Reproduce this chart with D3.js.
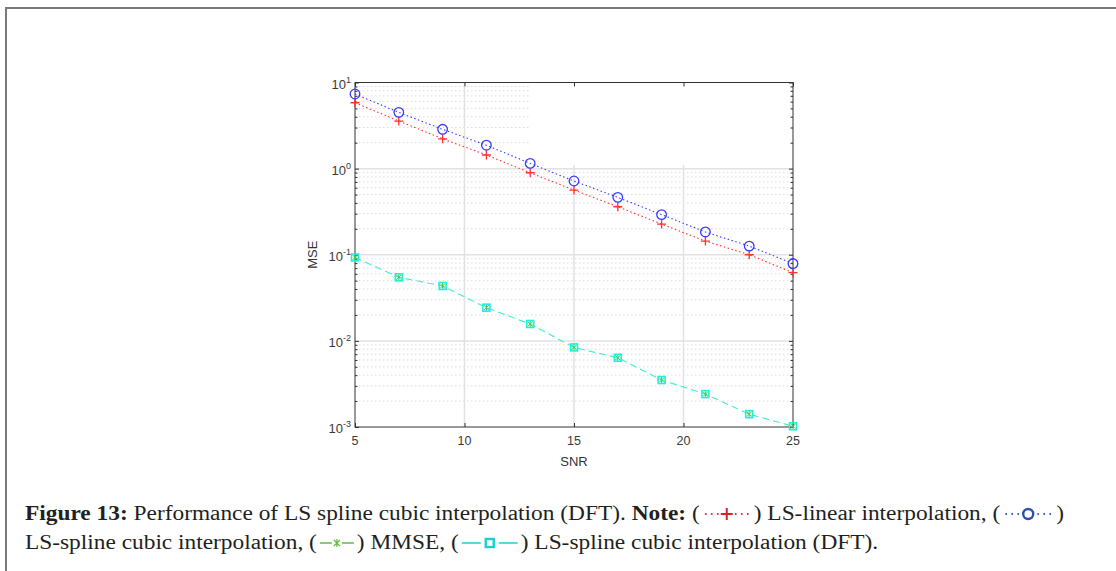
<!DOCTYPE html>
<html>
<head>
<meta charset="utf-8">
<script src="https://cdn.jsdelivr.net/npm/d3@7"></script>
<style>
  body { margin: 0; background: #fff; }
  svg { display: block; }
</style>
</head>
<body>
<svg id="fig" width="1116" height="571"></svg>
<script>
// values
const snr = [5, 7, 9, 11, 13, 15, 17, 19, 21, 23, 25];
const lsLinear = [5.82, 3.57, 2.22, 1.44, 0.895, 0.564, 0.361, 0.227, 0.144, 0.100, 0.062];
const lsSpline = [7.35, 4.50, 2.86, 1.87, 1.15, 0.718, 0.464, 0.292, 0.184, 0.126, 0.079];
const mmse = [0.093, 0.0547, 0.0434, 0.0243, 0.0157, 0.0084, 0.00637, 0.00351, 0.00241, 0.00141, 0.00102];
const lsSplineDft = [0.093, 0.0547, 0.0434, 0.0243, 0.0157, 0.0084, 0.00637, 0.00351, 0.00241, 0.00141, 0.00102];

const xTicks = [5, 10, 15, 20, 25];
const yTicks = [1e-3, 1e-2, 1e-1, 1, 10];
const yExp = ["-3", "-2", "-1", "0", "1"];

const svg = d3.select("#fig");
svg.append("rect").attr("width", 1116).attr("height", 571).attr("fill", "#fff");

// page frame (top and left edges only)
svg.append("path")
    .attr("d", "M6,571 V8 H1116")
    .attr("fill", "none")
    .attr("stroke", "#7a7a7a")
    .attr("stroke-width", 2);

const plot = { left: 355, right: 793, top: 82.5, bottom: 427 };

const x = d3.scaleLinear().domain([5, 25]).range([plot.left, plot.right]);
const y = d3.scaleLog().domain([1e-3, 10]).range([plot.bottom, plot.top]);

// minor decades 2..9
let minor = [];
for (let k = -3; k < 1; k++) {
    for (let m = 2; m <= 9; m++) minor.push(m * Math.pow(10, k));
}

const g = svg.append("g");

// minor grid (dotted)
g.append("g").selectAll("line")
    .data(minor)
    .enter().append("line")
    .attr("x1", plot.left).attr("x2", plot.right)
    .attr("y1", d => y(d)).attr("y2", d => y(d))
    .attr("stroke", "#dcdcdc")
    .attr("stroke-width", 1)
    .attr("stroke-dasharray", "1.5,2.5");

// major grid
g.append("g").selectAll("line")
    .data(yTicks.slice(1, -1))
    .enter().append("line")
    .attr("x1", plot.left).attr("x2", plot.right)
    .attr("y1", d => y(d)).attr("y2", d => y(d))
    .attr("stroke", "#e2e2e2")
    .attr("stroke-width", 1.5);

g.append("g").selectAll("line")
    .data(xTicks.slice(1, -1))
    .enter().append("line")
    .attr("x1", d => x(d)).attr("x2", d => x(d))
    .attr("y1", plot.top).attr("y2", plot.bottom)
    .attr("stroke", "#e2e2e2")
    .attr("stroke-width", 1.5);

// blank area left where the (emptied) legend box sat in the top-right corner
g.append("rect")
    .attr("x", 531).attr("y", plot.top + 1.5)
    .attr("width", plot.right - 3 - 531).attr("height", 165 - plot.top - 1.5)
    .attr("fill", "#fff");

// axes, ticks point inward
const axisColor = "#333";
function styleAxis(sel) {
    sel.select(".domain").remove();
    sel.selectAll(".tick line").attr("stroke", axisColor);
    sel.selectAll(".tick text").remove();
}

g.append("g").attr("transform", `translate(0,${plot.bottom})`)
    .call(d3.axisTop(x).tickValues(xTicks).tickSize(4)).call(styleAxis);
g.append("g").attr("transform", `translate(0,${plot.top})`)
    .call(d3.axisBottom(x).tickValues(xTicks).tickSize(4)).call(styleAxis);
g.append("g").attr("transform", `translate(${plot.left},0)`)
    .call(d3.axisRight(y).tickValues(yTicks).tickSize(4)).call(styleAxis);
g.append("g").attr("transform", `translate(${plot.right},0)`)
    .call(d3.axisLeft(y).tickValues(yTicks).tickSize(4)).call(styleAxis);
g.append("g").attr("transform", `translate(${plot.left},0)`)
    .call(d3.axisRight(y).tickValues(minor).tickSize(2.5)).call(styleAxis);
g.append("g").attr("transform", `translate(${plot.right},0)`)
    .call(d3.axisLeft(y).tickValues(minor).tickSize(2.5)).call(styleAxis);

g.append("rect")
    .attr("x", plot.left).attr("y", plot.top)
    .attr("width", plot.right - plot.left).attr("height", plot.bottom - plot.top)
    .attr("fill", "none")
    .attr("stroke", axisColor)
    .attr("stroke-width", 1);

// tick labels
const tickFont = "'Liberation Sans', Arial, sans-serif";
g.append("g").selectAll("text")
    .data(xTicks)
    .enter().append("text")
    .attr("x", d => x(d))
    .attr("y", plot.bottom + 18)
    .attr("text-anchor", "middle")
    .style("font-family", tickFont)
    .style("font-size", "12.5px")
    .attr("fill", "#3a3a3a")
    .text(d => d);

const yLab = g.append("g").selectAll("text")
    .data(yTicks)
    .enter().append("text")
    .attr("x", plot.left - 4)
    .attr("y", d => y(d) + 6)
    .attr("text-anchor", "end")
    .style("font-family", tickFont)
    .style("font-size", "13px")
    .attr("fill", "#3a3a3a");
yLab.append("tspan").text("10");
yLab.append("tspan")
    .attr("dy", -6)
    .style("font-size", "9px")
    .text((d, i) => yExp[i]);

g.append("text")
    .attr("x", (plot.left + plot.right) / 2)
    .attr("y", 466)
    .attr("text-anchor", "middle")
    .style("font-family", tickFont)
    .style("font-size", "13px")
    .attr("fill", "#333")
    .text("SNR");

g.append("text")
    .attr("transform", `translate(317,${(plot.top + plot.bottom) / 2}) rotate(-90)`)
    .attr("text-anchor", "middle")
    .style("font-family", tickFont)
    .style("font-size", "13px")
    .attr("fill", "#333")
    .text("MSE");

// series (the MMSE curve sits under the DFT curve, only its markers show)
const line = d3.line().x((d, i) => x(snr[i])).y(d => y(d));

const series = [
    { vals: lsLinear, color: "#ff3030", dash: "1.5,2.5", marker: "plus" },
    { vals: lsSpline, color: "#3a3aff", dash: "1.5,2.5", marker: "circle" },
    { vals: mmse, color: "#3ccf3c", dash: null, marker: "star", noLine: true },
    { vals: lsSplineDft, color: "#3ef2c4", dash: "7,4", marker: "square" }
];

series.forEach(s => {
    if (s.noLine) return;
    g.append("path")
        .attr("d", line(s.vals))
        .attr("fill", "none")
        .attr("stroke", s.color)
        .attr("stroke-width", 1.1)
        .attr("stroke-dasharray", s.dash);
});

series.forEach(s => {
    const m = g.append("g").selectAll("g")
        .data(s.vals)
        .enter().append("g")
        .attr("transform", (d, i) => `translate(${x(snr[i])},${y(d)})`);
    if (s.marker == "plus") {
        m.append("path").attr("d", "M-4.5,0H4.5M0,-4.5V4.5")
            .attr("stroke", s.color).attr("stroke-width", 1.3);
    } else if (s.marker == "circle") {
        m.append("circle").attr("r", 4.8)
            .attr("fill", "none").attr("stroke", s.color).attr("stroke-width", 1.3);
    } else if (s.marker == "square") {
        m.append("rect").attr("x", -3.5).attr("y", -3.5).attr("width", 7).attr("height", 7)
            .attr("fill", "none").attr("stroke", "#22eedd").attr("stroke-width", 1.6);
    } else {
        m.append("path").attr("d", "M-2.5,-2.5L2.5,2.5M-2.5,2.5L2.5,-2.5M0,-3V3")
            .attr("stroke", s.color).attr("stroke-width", 1);
    }
});

// caption with inline legend glyphs
const capFont = "'Liberation Serif', 'DejaVu Serif', serif";
const capSize = 20;

const glyphs = {
    red: { w: 50, draw: (sel, cy) => {
        [4, 10, 16, 34, 40, 46].forEach(px => sel.append("circle").attr("cx", px).attr("cy", cy).attr("r", 1).attr("fill", "#d8202c"));
        sel.append("path").attr("d", `M19,${cy}H31M25,${cy - 6}V${cy + 6}`).attr("stroke", "#d8202c").attr("stroke-width", 2);
    } },
    blue: { w: 52, draw: (sel, cy) => {
        [4, 10, 16, 36, 42, 48].forEach(px => sel.append("circle").attr("cx", px).attr("cy", cy).attr("r", 1).attr("fill", "#2f4fa8"));
        sel.append("circle").attr("cx", 26).attr("cy", cy).attr("r", 5).attr("fill", "none").attr("stroke", "#2f4fa8").attr("stroke-width", 2.4);
    } },
    green: { w: 36, draw: (sel, cy) => {
        sel.append("path").attr("d", `M1,${cy}H13M23,${cy}H35`).attr("stroke", "#66bb44").attr("stroke-width", 1.6);
        sel.append("path").attr("d", `M15,${cy - 3}L21,${cy + 3}M15,${cy + 3}L21,${cy - 3}M18,${cy - 4}V${cy + 4}`).attr("stroke", "#66bb44").attr("stroke-width", 1.2);
    } },
    cyan: { w: 58, draw: (sel, cy) => {
        sel.append("path").attr("d", `M1,${cy}H20M38,${cy}H57`).attr("stroke", "#1fcfcf").attr("stroke-width", 1.6);
        sel.append("rect").attr("x", 25).attr("y", cy - 4).attr("width", 8).attr("height", 8).attr("fill", "none").attr("stroke", "#1fcfcf").attr("stroke-width", 2.4);
    } }
};

const capLines = [
    [{ t: "Figure 13:", b: true }, { t: " Performance of LS spline cubic interpolation (DFT). " }, { t: "Note:", b: true },
     { t: " (" }, { gl: "red" }, { t: ") LS-linear interpolation, (" }, { gl: "blue" }, { t: ")" }],
    [{ t: "LS-spline cubic interpolation, (" }, { gl: "green" }, { t: ") MMSE, (" }, { gl: "cyan" }, { t: ") LS-spline cubic interpolation (DFT)." }]
];
const capBase = [520, 549];
const capLeft = 25, capRight = 1064;

const cap = svg.append("g");

function addText(p, li, xPos) {
    return cap.append("text")
        .attr("x", xPos).attr("y", capBase[li])
        .style("font-family", capFont)
        .style("font-size", capSize + "px")
        .style("font-weight", p.b ? "bold" : "normal")
        .attr("xml:space", "preserve")
        .style("white-space", "pre")
        .attr("fill", "#231f20")
        .text(p.t);
}

// the original face is wider than Times: stretch the text so line 1 spans the same width
let natText = 0, glyphW = 0;
capLines[0].forEach(p => {
    if (p.gl) { glyphW += glyphs[p.gl].w + 4; return; }
    const t = addText(p, 0, 0);
    natText += t.node().getComputedTextLength();
    t.remove();
});
const stretch = (capRight - capLeft - glyphW) / natText;

capLines.forEach((pieces, li) => {
    let cx = capLeft;
    pieces.forEach(p => {
        if (p.gl) {
            const gg = cap.append("g").attr("transform", `translate(${cx + 2},0)`);
            glyphs[p.gl].draw(gg, capBase[li] - 6);
            cx += glyphs[p.gl].w + 4;
        } else {
            const t = addText(p, li, cx);
            const w = t.node().getComputedTextLength() * stretch;
            t.attr("textLength", w).attr("lengthAdjust", "spacingAndGlyphs");
            cx += w;
        }
    });
});
</script>
</body>
</html>
